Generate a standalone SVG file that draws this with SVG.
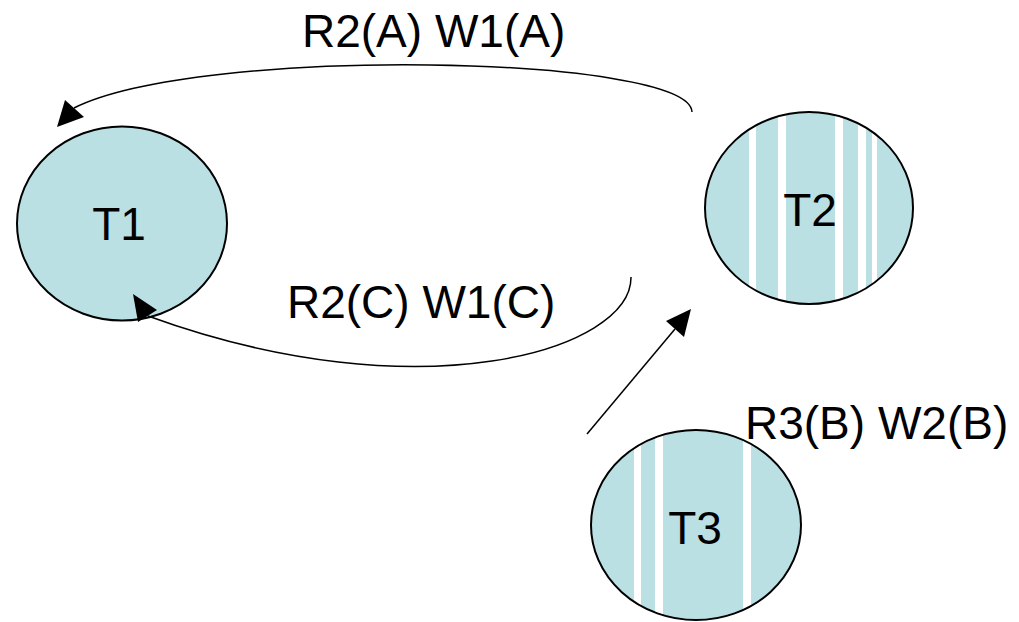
<svg xmlns="http://www.w3.org/2000/svg" width="1019" height="622" viewBox="0 0 1019 622">
<style>
.node{fill:#BAE0E4;stroke:#000;stroke-width:2}
.stripe{fill:#fff}
.lbl{font-family:"Liberation Sans",Arial,sans-serif;font-size:46px;fill:#000}
.conn{fill:none;stroke:#000;stroke-width:1.5}
.head{fill:#000}
</style>
<defs>
<clipPath id="c2"><ellipse cx="809" cy="208" rx="104" ry="96"/></clipPath>
<clipPath id="c3"><ellipse cx="696" cy="525" rx="105" ry="95"/></clipPath>
</defs>
<rect width="1019" height="622" fill="#fff"/>
<g id="T1">
<ellipse class="node" cx="122" cy="223.5" rx="105" ry="97"/>
<text class="lbl" x="119" y="240" text-anchor="middle">T1</text>
</g>
<g id="T2">
<ellipse cx="809" cy="208" rx="104" ry="96" fill="#BAE0E4"/>
<g clip-path="url(#c2)">
<rect class="stripe" x="749" y="100" width="7" height="220"/>
<rect class="stripe" x="778" y="100" width="8" height="220"/>
<rect class="stripe" x="835" y="100" width="8" height="220"/>
<rect class="stripe" x="858" y="100" width="8" height="220"/>
<rect class="stripe" x="872" y="100" width="5" height="220"/>
</g>
<ellipse cx="809" cy="208" rx="104" ry="96" fill="none" stroke="#000" stroke-width="2"/>
<text class="lbl" x="810" y="226" text-anchor="middle">T2</text>
</g>
<g id="T3">
<ellipse cx="696" cy="525" rx="105" ry="95" fill="#BAE0E4"/>
<g clip-path="url(#c3)">
<rect class="stripe" x="634" y="420" width="7" height="210"/>
<rect class="stripe" x="655" y="420" width="8" height="210"/>
<rect class="stripe" x="743" y="420" width="8" height="210"/>
</g>
<ellipse cx="696" cy="525" rx="105" ry="95" fill="none" stroke="#000" stroke-width="2"/>
<text class="lbl" x="695" y="544" text-anchor="middle">T3</text>
</g>
<g id="connectors">
<path class="conn" d="M692,112 C690,55 200,45 74,108"/>
<polygon class="head" points="57,127 65,100 84,117"/>
<path class="conn" d="M631,277 C632,350 420,415 148,316"/>
<polygon class="head" points="133,294 157,310 138,322"/>
<path class="conn" d="M587,434 L675,329" stroke-width="2"/>
<polygon class="head" points="691,309 666,321 684,337"/>
</g>
<g id="labels">
<text class="lbl" x="302" y="47">R2(A) W1(A)</text>
<text class="lbl" x="287" y="318">R2(C) W1(C)</text>
<text class="lbl" x="745" y="439">R3(B) W2(B)</text>
</g>
</svg>
